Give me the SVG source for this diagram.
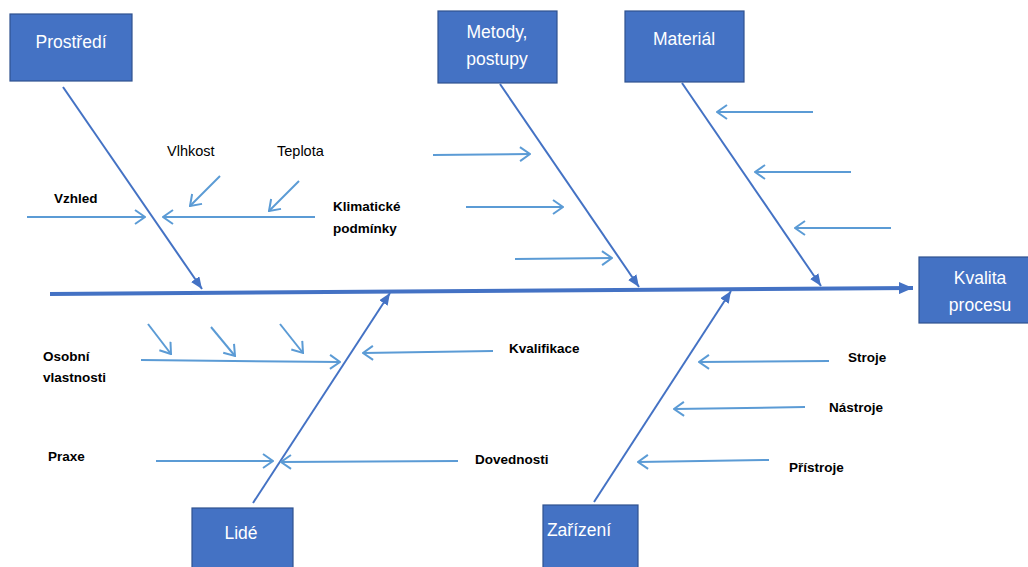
<svg xmlns="http://www.w3.org/2000/svg" width="1028" height="567" viewBox="0 0 1028 567">
  <style>
    .box { fill: #4472C4; stroke: #2F528F; stroke-width: 1.2; }
    .boxtxt { font-family: "Liberation Sans", Arial, sans-serif; font-size: 17.5px; fill: #ffffff; text-anchor: middle; }
    .lbl { font-family: "Liberation Sans", Arial, sans-serif; font-size: 14.5px; fill: #000000; }
    .bold { font-weight: bold; font-size: 13.5px; }
    .spine { stroke: #4472C4; stroke-width: 4; fill: none; }
    .bone { stroke: #4472C4; stroke-width: 2; fill: none; marker-end: url(#tri); }
    .sub { stroke: #5B9BD5; stroke-width: 2; fill: none; marker-end: url(#open); }
  </style>
  <defs>
    <marker id="tri" markerUnits="userSpaceOnUse" viewBox="0 0 12 10" refX="12" refY="5" markerWidth="12" markerHeight="10" orient="auto">
      <path d="M0,0 L12,5 L0,10 Z" fill="#4472C4"/>
    </marker>
    <marker id="spineTip" markerUnits="userSpaceOnUse" viewBox="0 0 14 12" refX="14" refY="6" markerWidth="14" markerHeight="12" orient="auto">
      <path d="M0,0 L14,6 L0,12 Z" fill="#4472C4"/>
    </marker>
    <marker id="open" markerUnits="userSpaceOnUse" viewBox="0 0 12 16" refX="11" refY="8" markerWidth="12" markerHeight="16" orient="auto">
      <path d="M1,1 L11,8 L1,15" fill="none" stroke="#5B9BD5" stroke-width="2"/>
    </marker>
  </defs>

  <!-- connectors: spine, main bones and cause arrows -->
  <g id="connectors">
    <line class="spine" x1="50" y1="294" x2="913" y2="288" marker-end="url(#spineTip)"/>

    <line class="bone" x1="63" y1="87" x2="202" y2="289"/>
    <line class="bone" x1="500" y1="84" x2="639" y2="287"/>
    <line class="bone" x1="682" y1="83" x2="821" y2="286"/>
    <line class="bone" x1="253" y1="503" x2="390" y2="293"/>
    <line class="bone" x1="594" y1="502" x2="731" y2="291"/>

    <!-- Prostředí causes -->
    <line class="sub" x1="27" y1="217" x2="145" y2="217"/>
    <line class="sub" x1="315" y1="217" x2="163" y2="217"/>
    <line class="sub" x1="220" y1="176" x2="190" y2="206"/>
    <line class="sub" x1="299" y1="181" x2="269" y2="211"/>

    <!-- Metody causes -->
    <line class="sub" x1="433" y1="155" x2="530" y2="154"/>
    <line class="sub" x1="466" y1="207" x2="563" y2="207"/>
    <line class="sub" x1="515" y1="259" x2="612" y2="258"/>

    <!-- Materiál causes -->
    <line class="sub" x1="813" y1="112" x2="717" y2="112"/>
    <line class="sub" x1="851" y1="172" x2="755" y2="172"/>
    <line class="sub" x1="891" y1="228" x2="795" y2="228"/>

    <!-- Lidé causes -->
    <line class="sub" x1="141" y1="360" x2="340" y2="362"/>
    <line class="sub" x1="148" y1="324" x2="171" y2="354"/>
    <line class="sub" x1="211" y1="327" x2="235" y2="356"/>
    <line class="sub" x1="280" y1="324" x2="303" y2="353"/>
    <line class="sub" x1="493" y1="351" x2="363" y2="353"/>
    <line class="sub" x1="156" y1="461" x2="273" y2="461"/>
    <line class="sub" x1="458" y1="461" x2="281" y2="462"/>

    <!-- Zařízení causes -->
    <line class="sub" x1="829" y1="361" x2="699" y2="362"/>
    <line class="sub" x1="805" y1="407" x2="674" y2="409"/>
    <line class="sub" x1="769" y1="460" x2="638" y2="462"/>
  </g>

  <!-- category boxes -->
  <g id="prostredi">
    <rect class="box" x="10" y="14" width="122" height="67"/>
    <text class="boxtxt" x="71" y="48">Prostředí</text>
  </g>
  <g id="metody">
    <rect class="box" x="438" y="11" width="119" height="72"/>
    <text class="boxtxt" x="497" y="38">Metody,</text>
    <text class="boxtxt" x="497" y="65">postupy</text>
  </g>
  <g id="material">
    <rect class="box" x="625" y="11" width="119" height="71"/>
    <text class="boxtxt" x="684" y="45">Materiál</text>
  </g>
  <g id="kvalita">
    <rect class="box" x="919" y="257" width="112" height="66"/>
    <text class="boxtxt" x="980" y="284">Kvalita</text>
    <text class="boxtxt" x="980" y="311">procesu</text>
  </g>
  <g id="lide">
    <rect class="box" x="192" y="508" width="101" height="62"/>
    <text class="boxtxt" x="241" y="539">Lidé</text>
  </g>
  <g id="zarizeni">
    <rect class="box" x="543" y="505" width="95" height="65"/>
    <text class="boxtxt" x="579" y="536">Zařízení</text>
  </g>

  <!-- cause labels -->
  <g id="labels">
    <text class="lbl" x="167" y="156">Vlhkost</text>
    <text class="lbl" x="277" y="156">Teplota</text>
    <text class="lbl bold" x="54" y="203">Vzhled</text>
    <text class="lbl bold" x="333" y="211">Klimatické</text>
    <text class="lbl bold" x="333" y="233">podmínky</text>
    <text class="lbl bold" x="43" y="361">Osobní</text>
    <text class="lbl bold" x="43" y="382">vlastnosti</text>
    <text class="lbl bold" x="48" y="461">Praxe</text>
    <text class="lbl bold" x="509" y="353">Kvalifikace</text>
    <text class="lbl bold" x="475" y="464">Dovednosti</text>
    <text class="lbl bold" x="848" y="362">Stroje</text>
    <text class="lbl bold" x="829" y="412">Nástroje</text>
    <text class="lbl bold" x="789" y="472">Přístroje</text>
  </g>
</svg>
